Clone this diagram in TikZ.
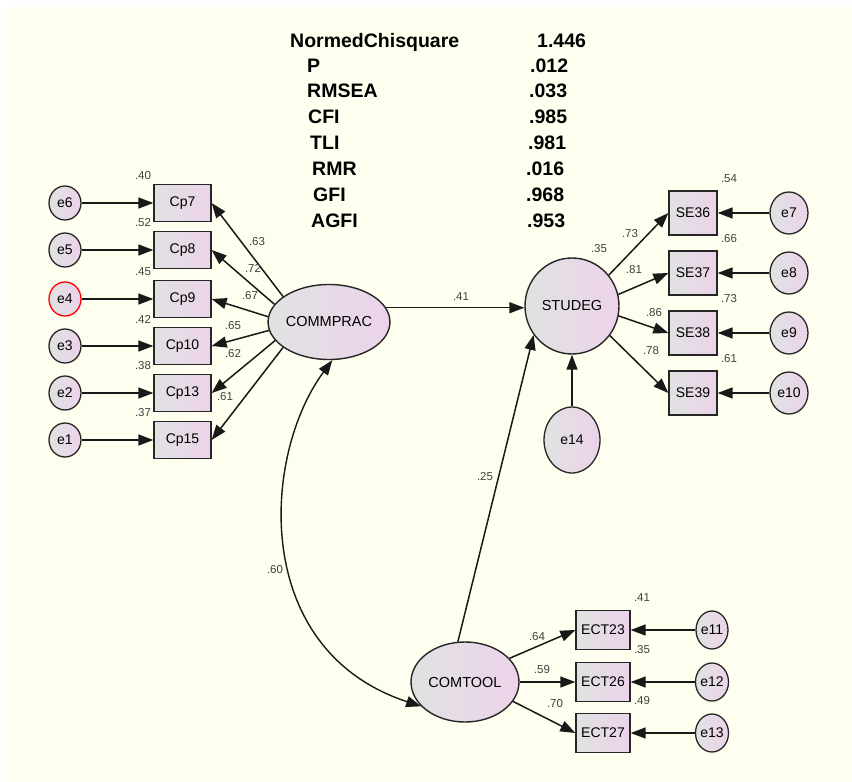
\documentclass[tikz,border=0pt]{standalone}
\usepackage{fontspec}
\setmainfont{Liberation Sans}
\usetikzlibrary{arrows.meta,shapes.geometric}
\definecolor{bg}{HTML}{FFFFF0}
\definecolor{gL}{HTML}{E0E2E2}
\definecolor{pR}{HTML}{ECD3EA}
\begin{document}
\begin{tikzpicture}[x=1pt,y=-1pt,
  obs/.style={rectangle, draw=black!85, line width=1.3pt, left color=gL, right color=pR, inner sep=0pt, font=\fontsize{14}{14}\selectfont},
  errc/.style={ellipse, draw=black!85, line width=1.3pt, left color=gL, right color=pR, inner sep=0pt, font=\fontsize{14}{14}\selectfont},
  lat/.style={ellipse, draw=black!85, line width=1.4pt, left color=gL, right color=pR, inner sep=0pt, font=\fontsize{14.5}{14.5}\selectfont},
  lbl/.style={font=\fontsize{11.5}{11.5}\selectfont, text=black!75, inner sep=0pt},
  stat/.style={font=\fontsize{19.5}{19.5}\selectfont\bfseries, inner sep=0pt, anchor=base west},
  pth/.style={-{Triangle[length=15pt,width=11pt]}, line width=1.5pt, draw=black!90},
  dbl/.style={{Triangle[length=15pt,width=11pt]}-{Triangle[length=15pt,width=11pt]}, line width=1.4pt, draw=black!90}
]
\useasboundingbox (0,0) rectangle (852,782);
\fill[white] (0,0) rectangle (852,782);
\fill[bg] (7,7) rectangle (852,782);

% fit statistics
\node[stat] (s1) at (290,47) {NormedChisquare};
\node[stat] (s2) at (307,72) {P};
\node[stat] (s3) at (307,97) {RMSEA};
\node[stat] (s4) at (308,123) {CFI};
\node[stat] (s5) at (310,149) {TLI};
\node[stat] (s6) at (312,175) {RMR};
\node[stat] (s7) at (313,201) {GFI};
\node[stat] (s8) at (311,227) {AGFI};
\node[stat] (v1) at (537,47) {1.446};
\node[stat] (v2) at (530,72) {.012};
\node[stat] (v3) at (529,97) {.033};
\node[stat] (v4) at (529,123) {.985};
\node[stat] (v5) at (528,149) {.981};
\node[stat] (v6) at (526,175) {.016};
\node[stat] (v7) at (526,201) {.968};
\node[stat] (v8) at (527,227) {.953};

% latent variables
\node[lat, minimum width=115pt, minimum height=75pt] (comm) at (329,322) {COMMPRAC};
\node[lat, minimum width=94pt, minimum height=96pt] (stu) at (572,306) {STUDEG};
\node[lat, minimum width=108pt, minimum height=80pt] (ct) at (465,682) {COMTOOL};
\node[errc, minimum width=56pt, minimum height=66pt] (e14) at (572,440) {e14};

% left indicators
\foreach \n/\y/\e/\r in {Cp7/203/e6/.40, Cp8/250/e5/.52, Cp9/299/e4/.45, Cp10/346/e3/.42, Cp13/393/e2/.38, Cp15/440/e1/.37}{
  \node[obs, minimum width=57pt, minimum height=37pt] (\n) at (182.5,\y) {\n};
  \node[lbl] (r\n) at (143,\y-27) {\r};
}
\node[errc, minimum width=32pt, minimum height=34pt] (e6) at (65,203) {e6};
\node[errc, minimum width=32pt, minimum height=34pt] (e5) at (65,250) {e5};
\node[errc, minimum width=32pt, minimum height=34pt, draw=red] (e4) at (65,299) {e4};
\node[errc, minimum width=32pt, minimum height=34pt] (e3) at (65,346) {e3};
\node[errc, minimum width=32pt, minimum height=34pt] (e2) at (65,393) {e2};
\node[errc, minimum width=32pt, minimum height=34pt] (e1) at (65,440) {e1};
\draw[pth] (e6) -- (Cp7);
\draw[pth] (e5) -- (Cp8);
\draw[pth] (e4) -- (Cp9);
\draw[pth] (e3) -- (Cp10);
\draw[pth] (e2) -- (Cp13);
\draw[pth] (e1) -- (Cp15);

\draw[pth] (comm.151) -- (Cp7.east);
\draw[pth] (comm.162) -- (Cp8.east);
\draw[pth] (comm.175) -- (Cp9.east);
\draw[pth] (comm.188) -- (Cp10.east);
\draw[pth] (comm.199) -- (Cp13.east);
\draw[pth] (comm.209) -- (Cp15.east);
\node[lbl] (l1) at (257,242) {.63};
\node[lbl] (l2) at (253,268) {.72};
\node[lbl] (l3) at (250,296) {.67};
\node[lbl] (l4) at (233,326) {.65};
\node[lbl] (l5) at (233,354) {.62};
\node[lbl] (l6) at (225,397) {.61};

% right indicators
\foreach \n/\y/\e/\r in {SE36/213/e7/.54, SE37/273/e8/.66, SE38/333/e9/.73, SE39/393/e10/.61}{
  \node[obs, minimum width=48pt, minimum height=44pt] (\n) at (693,\y) {\n};
  \node[errc, minimum width=38pt, minimum height=42pt] (\e) at (789,\y) {\e};
  \node[lbl] (r\n) at (729,\y-34) {\r};
  \draw[pth] (\e) -- (\n);
}
\draw[pth] (stu.40) -- (SE36.west);
\draw[pth] (stu.14) -- (SE37.west);
\draw[pth] (stu.-12) -- (SE38.west);
\draw[pth] (stu.-38) -- (SE39.west);
\node[lbl] (m1) at (630,234) {.73};
\node[lbl] (m2) at (634,270) {.81};
\node[lbl] (m3) at (654,313) {.86};
\node[lbl] (m4) at (651,351) {.78};
\node[lbl] (m5) at (599,249) {.35};

% bottom indicators
\foreach \n/\y/\e/\r in {ECT23/630/e11/.41, ECT26/682/e12/.35, ECT27/733/e13/.49}{
  \node[obs, minimum width=54pt, minimum height=39pt] (\n) at (603,\y) {\n};
  \node[errc, minimum width=32pt, minimum height=38pt] (\e) at (712,\y) {\e};
  \node[lbl] (r\n) at (642,\y-32) {\r};
  \draw[pth] (\e) -- (\n);
}
\draw[pth] (ct.28) -- (ECT23.west);
\draw[pth] (ct.0) -- (ECT26.west);
\draw[pth] (ct.-22) -- (ECT27.west);
\node[lbl] (n1) at (537,637) {.64};
\node[lbl] (n2) at (542,670) {.59};
\node[lbl] (n3) at (555,704) {.70};

% structural paths
\draw[pth] (comm.14) -- (comm.14 -| stu.west);
\node[lbl] (k1) at (461,297) {.41};
\draw[pth] (e14) -- (stu);
\draw[pth] (ct.100) -- (stu.217);
\node[lbl] (k2) at (485,477) {.25};
\draw[dbl] (comm.275) .. controls (262,455) and (250,650) .. (ct.209);
\node[lbl] (k3) at (275,570) {.60};
\end{tikzpicture}
\end{document}
